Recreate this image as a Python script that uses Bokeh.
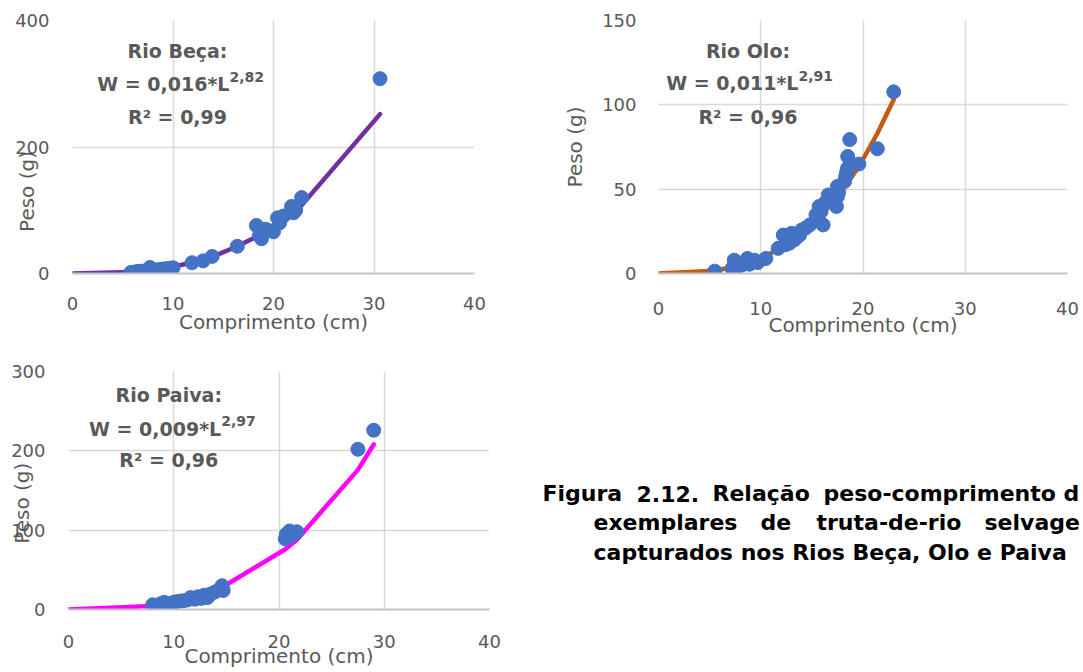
from bokeh.plotting import figure
from bokeh.models import Range1d, FixedTicker, Label
from bokeh.layouts import row, column
from bokeh.core.properties import value
from bokeh.embed import file_html
from bokeh.resources import INLINE

# ---------------- data ----------------
x_ticks = [0, 10, 20, 30, 40]

beca_x = [5.8, 6.0, 6.2, 6.4, 6.6, 6.8, 7.0, 7.2, 7.5, 7.7, 7.9, 8.2, 8.5, 8.8, 9.0, 9.3, 9.6, 10.0,
          11.9, 13.0, 13.9, 16.4, 18.3, 18.6, 18.8, 19.2, 19.5, 20.0, 20.4, 20.6, 21.0, 21.8, 22.0,
          22.2, 22.8, 30.6]
beca_y = [1.5, 2.0, 1.8, 3.0, 2.5, 3.5, 3.2, 4.0, 4.5, 9.5, 5.0, 5.5, 6.0, 6.5, 7.0, 7.5, 8.0, 9.0,
          17, 20, 27, 43, 76, 60, 55, 70, 68, 66, 88, 80, 91, 106, 96, 100, 120, 308]
beca_fit_x = [0, 5.8, 8, 10, 12, 14, 16.4, 18.3, 20, 22, 22.8, 30.6]
beca_fit_y = [0, 2.3, 5.6, 10.6, 17.7, 27, 43, 58, 75, 98, 108, 252]
beca_yticks = [0, 200, 400]

olo_x = [5.5, 7.2, 7.4, 7.8, 8.1, 8.4, 8.7, 8.9, 9.1, 9.4, 9.7, 10.5, 11.7, 12.2, 12.4, 12.8, 13.0,
         13.3, 13.6, 13.8, 14.0, 14.4, 14.8, 15.4, 15.6, 15.7, 15.9, 16.1, 16.3, 16.6, 17.0, 17.4,
         17.5, 17.5, 17.6, 18.2, 18.3, 18.4, 18.5, 18.5, 18.7, 19.6, 21.4, 23.0]
olo_y = [1.4, 3.0, 7.9, 4.5, 4.9, 6.0, 8.9, 5.5, 7.0, 7.9, 6.5, 8.9, 14.9, 22.8, 17.0, 17.9, 23.8,
         20.0, 22.0, 22.8, 25.8, 27.0, 28.8, 34.7, 33.0, 39.7, 36.8, 28.8, 42.0, 46.6, 44.0, 39.7,
         45.6, 51.6, 48.0, 54.6, 57.5, 60.0, 62.5, 69.4, 79.4, 64.9, 74.0, 107.7]
olo_fit_x = [0, 5.5, 8, 10, 12, 14, 16, 18, 19.6, 21.4, 23.0]
olo_fit_y = [0, 1.6, 4.7, 8.9, 15.2, 23.8, 35.1, 49.5, 63.4, 83, 103]
olo_yticks = [0, 50, 100, 150]

paiva_x = [8.0, 8.2, 8.5, 8.8, 9.1, 9.4, 9.8, 10.1, 10.5, 10.9, 11.3, 11.6, 12.0, 12.3, 12.6, 12.9,
           13.2, 13.5, 13.9, 14.4, 14.6, 14.7, 20.6, 20.7, 21.0, 21.2, 21.7, 27.5, 29.0]
paiva_y = [6.0, 3.0, 5.0, 7.5, 9.0, 6.5, 8.0, 9.5, 10.5, 11.0, 12.0, 15.0, 13.0, 16.0, 14.0, 18.0,
           15.0, 19.5, 22.0, 26.0, 30.0, 24.0, 89.0, 95.0, 99.0, 93.0, 98.0, 202.0, 226.0]
paiva_fit_x = [0, 8.0, 10, 12, 14.6, 20.6, 21.7, 27.5, 29.0]
paiva_fit_y = [0, 4.5, 8.5, 14.5, 28, 76, 88, 176, 208]
paiva_yticks = [0, 100, 200, 300]

# caption as it is visible in the picture (cut by the right edge)
caption_lines = [
    ["Figura", "2.12.", "Relação", "peso-comprimento", "d"],
    ["exemplares", "de", "truta-de-rio", "selvage"],
    ["capturados nos Rios Beça, Olo e Paiva"],
]

# ---------------- style ----------------
FONT = "DejaVu Sans"
GRAY = "#595959"
BLUE = "#4472C4"
GRID = "#d9d9d9"
NBSP = "\u00a0"


def panel(width, height, mb, ymax, yticks, xs, ys, fx, fy, color, lbl_std, title_std,
          ylab_pad=0):
    p = figure(width=width, height=height, x_range=Range1d(0, 40), y_range=Range1d(0, ymax),
               output_backend="svg", toolbar_location=None,
               min_border_left=mb[0], min_border_right=mb[1], min_border_top=mb[2],
               min_border_bottom=mb[3])
    p.outline_line_color = None
    p.background_fill_color = "white"
    p.border_fill_color = "white"
    p.xaxis.ticker = FixedTicker(ticks=x_ticks)
    p.yaxis.ticker = FixedTicker(ticks=yticks)
    for ax in p.axis:
        ax.major_tick_line_color = None
        ax.minor_tick_line_color = None
        ax.major_tick_out = 0
        ax.major_tick_in = 0
        ax.major_label_text_font = FONT
        ax.major_label_text_font_size = "18px"
        ax.major_label_text_color = GRAY
        ax.axis_label_text_font = FONT
        ax.axis_label_text_font_size = "20px"
        ax.axis_label_text_font_style = "normal"
        ax.axis_label_text_color = GRAY
    p.xaxis.axis_label = "Comprimento (cm)"
    # padding (non-breaking spaces) moves the label along the axis as in the picture
    p.yaxis.axis_label = "Peso (g)" + NBSP * ylab_pad
    p.yaxis.axis_line_color = None
    p.xaxis.axis_line_color = "#c4c4c4"
    p.xaxis.axis_line_width = 2
    p.xaxis.major_label_standoff = lbl_std[0]
    p.yaxis.major_label_standoff = lbl_std[1]
    p.xaxis.axis_label_standoff = title_std[0]
    p.yaxis.axis_label_standoff = title_std[1]
    p.grid.grid_line_color = GRID
    p.grid.grid_line_width = 1.5
    p.line(fx, fy, line_color=color, line_width=4.5, line_cap="round")
    p.scatter(xs, ys, size=14, fill_color=BLUE, line_color=BLUE)
    return p


def annot(p, river, coef, expo, r2, cx, y1, jx, y2, ys2, y3):
    kw = dict(text_font=FONT, text_font_style="bold", text_color=GRAY,
              text_baseline="alphabetic")
    p.add_layout(Label(x=cx, y=y1, text=river, text_align="center", text_font_size="19px", **kw))
    p.add_layout(Label(x=jx, y=y2, text="W = " + coef + "*L", text_align="right",
                       text_font_size="19px", **kw))
    p.add_layout(Label(x=jx, y=ys2, text=expo, text_align="left", text_font_size="14px", **kw))
    p.add_layout(Label(x=cx, y=y3, text="R² = " + r2, text_align="center",
                       text_font_size="19px", **kw))


# Row 1 (frames of a row share their top/bottom borders)
p1 = panel(560, 355, (72, 86, 20, 82), 400, beca_yticks, beca_x, beca_y,
           beca_fit_x, beca_fit_y, "#7030A0", (23, 23), (-3, -27), 14)
annot(p1, "Rio Beça:", "0,016", "2,82", "0,99", 10.45, 351, 15.62, 300.3, 311.4, 248.2)

p2 = panel(523, 355, (97, 16, 20, 82), 150, olo_yticks, olo_x, olo_y,
           olo_fit_x, olo_fit_y, "#C55A11", (28, 22), (-5, 12))
annot(p2, "Rio Olo:", "0,011", "2,91", "0,96", 8.75, 131.7, 13.69, 112.7, 117.1, 92.5)

# Row 2
p3 = panel(530, 317, (68, 41, 16, 63), 300, paiva_yticks, paiva_x, paiva_y,
           paiva_fit_x, paiva_fit_y, "#FF00FF", (25, 23), (-7, -26), 4)
annot(p3, "Rio Paiva:", "0,009", "2,97", "0,96", 9.53, 270.1, 14.51, 228.1, 237.3, 188.2)

# Caption (data coordinates = page pixels)
cap = figure(width=553, height=317, x_range=Range1d(530, 1083), y_range=Range1d(609, 371),
             output_backend="svg", toolbar_location=None, x_axis_type=None, y_axis_type=None,
             min_border_left=0, min_border_right=0, min_border_top=16, min_border_bottom=63)
cap.outline_line_color = None
cap.background_fill_color = "white"
cap.border_fill_color = "white"
cap.grid.visible = False
word_x = [[542, 636, 712, 823, 1063],
          [593, 760, 816, 984],
          [593]]
line_y = [493, 522, 552]
tx, ty, tt = [], [], []
for words, xs_, yy in zip(caption_lines, word_x, line_y):
    for w, xx in zip(words, xs_):
        tx.append(xx)
        ty.append(yy)
        tt.append(w)
cap.text(tx, ty, text=tt, text_font=value(FONT), text_font_style="bold",
         text_font_size="22px", text_color="black", text_align="left",
         text_baseline="alphabetic")

layout = column(row(p1, p2), row(p3, cap))
open("out.html", "w").write(file_html(layout, INLINE))
